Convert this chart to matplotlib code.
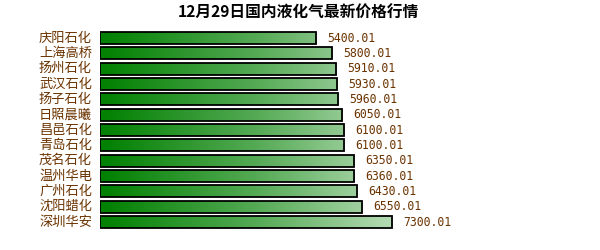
import numpy as np
import matplotlib.pyplot as plt
from matplotlib.colors import LinearSegmentedColormap
from matplotlib.patches import Rectangle

plt.rcParams['font.family'] = ['Noto Sans CJK SC', 'DejaVu Sans']

# data
companies = ["庆阳石化", "上海高桥", "扬州石化", "武汉石化", "扬子石化", "日照晨曦",
             "昌邑石化", "青岛石化", "茂名石化", "温州华电", "广州石化", "沈阳蜡化", "深圳华安"]
prices = [5400.01, 5800.01, 5910.01, 5930.01, 5960.01, 6050.01,
          6100.01, 6100.01, 6350.01, 6360.01, 6430.01, 6550.01, 7300.01]
title = "12月29日国内液化气最新价格行情"

brown = "#6b3300"
cmap = LinearSegmentedColormap.from_list("g", ["#008000", "#55aa55", "#c4e3c4"])

fig = plt.figure(figsize=(6, 2.5), dpi=100)
ax = fig.add_axes([100 / 600, 0.0812, 400 / 600, 0.797])
ax.set_xlim(0, 10000)
ax.set_ylim(len(companies) - 0.5, -0.5)
ax.axis("off")

bar_h = 0.78
grad = np.linspace(0, 1, 256).reshape(1, -1)
for i, (name, val) in enumerate(zip(companies, prices)):
    img = ax.imshow(grad, cmap=cmap, aspect="auto",
                    extent=[0, 7800, i + bar_h / 2, i - bar_h / 2], zorder=1)
    rect = Rectangle((0, i - bar_h / 2), val, bar_h, facecolor="none",
                     edgecolor="black", linewidth=1.3, zorder=2)
    ax.add_patch(rect)
    img.set_clip_path(rect)
    ax.text(val + 280, i, f"{val:.2f}", color=brown, fontsize=8.3,
            family="DejaVu Sans Mono", va="center", ha="left")
    ax.text(-200, i, name, color=brown, fontsize=9.5, va="center", ha="right")

ax.set_xlim(0, 10000)
ax.set_ylim(len(companies) - 0.5, -0.5)

fig.text(0.498, 1 - 13 / 250, title, ha="center", va="center",
         fontsize=11.3, fontweight="bold")

fig.savefig("out.png", dpi=100)
